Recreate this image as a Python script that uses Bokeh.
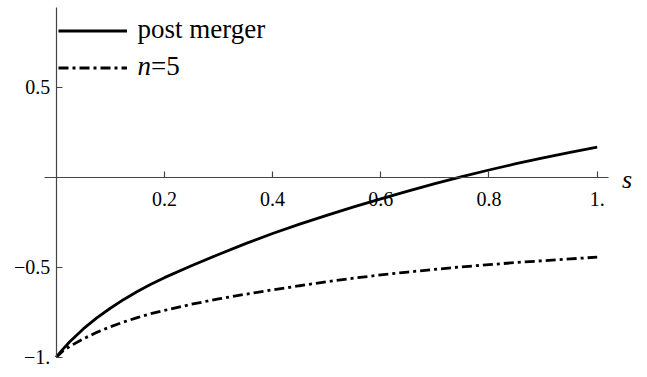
from bokeh.plotting import figure
from bokeh.models import FixedTicker, Label, Legend, LegendItem, Range1d
from bokeh.embed import file_html
from bokeh.resources import INLINE

# data
s = [0, 0.0125, 0.025, 0.05, 0.075, 0.1, 0.125, 0.15, 0.175, 0.2, 0.25, 0.3,
     0.35, 0.4, 0.45, 0.5, 0.55, 0.6, 0.65, 0.7, 0.75, 0.8, 0.85, 0.9, 0.95,
     1.0]
post_merger = [-1, -0.955, -0.914, -0.843, -0.782, -0.728, -0.679, -0.635,
               -0.595, -0.558, -0.492, -0.429, -0.369, -0.313, -0.261, -0.212,
               -0.165, -0.12, -0.077, -0.036, 0.003, 0.04, 0.075, 0.108,
               0.138, 0.167]
n5 = [-1, -0.965, -0.94, -0.898, -0.862, -0.831, -0.804, -0.78, -0.758,
      -0.74, -0.706, -0.676, -0.65, -0.626, -0.603, -0.581, -0.561, -0.543,
      -0.527, -0.512, -0.498, -0.486, -0.474, -0.464, -0.454, -0.444]

x_ticks = [0.2, 0.4, 0.6, 0.8, 1.0]
x_tick_labels = ["0.2", "0.4", "0.6", "0.8", "1."]
y_ticks = [0.5, -0.5, -1.0]
y_tick_labels = ["0.5", "\u22120.5", "\u22121."]
legend_text = ["post merger", ("n", "=5")]
axis_var = "s"

FONT = "Liberation Serif"

p = figure(width=647, height=377, output_backend="svg", toolbar_location=None,
           x_range=Range1d(-0.10296, 1.09298), y_range=Range1d(-1.11278, 0.98167),
           min_border=0, min_border_left=0, min_border_right=0,
           min_border_top=0, min_border_bottom=0)
p.outline_line_color = None
p.grid.visible = False
p.background_fill_color = "white"
p.border_fill_color = "white"

r1 = p.line(s, post_merger, line_color="black", line_width=2.8,
            line_join="round")
r2 = p.line(s, n5, line_color="black", line_width=2.8, line_dash="10 4 3 4")

for ax in (p.xaxis[0], p.yaxis[0]):
    ax.fixed_location = 0
    ax.axis_line_color = "#444444"
    ax.axis_line_width = 1.2
    ax.major_tick_line_color = "#444444"
    ax.major_tick_line_width = 1.2
    ax.major_tick_in = 6
    ax.major_tick_out = 0
    ax.minor_tick_line_color = None
    ax.major_label_text_font = FONT
    ax.major_label_text_font_size = "20px"
    ax.major_label_text_color = "black"

p.xaxis[0].ticker = FixedTicker(ticks=x_ticks)
p.xaxis[0].major_label_overrides = dict(zip(x_ticks, x_tick_labels))
p.xaxis[0].bounds = (-0.021, 1.021)
p.xaxis[0].major_label_standoff = 15

p.yaxis[0].ticker = FixedTicker(ticks=y_ticks)
p.yaxis[0].major_label_overrides = dict(zip(y_ticks, y_tick_labels))
p.yaxis[0].bounds = (-1.0, 0.943)
p.yaxis[0].major_label_standoff = 6

p.add_layout(Label(x=1.046, y=0, x_units="data", y_units="data", text=axis_var,
                   text_font=FONT, text_font_style="italic",
                   text_font_size="26px", text_baseline="middle",
                   text_align="left", y_offset=-2, text_color="black"))

# legend keys (line samples); the texts are drawn as labels so that
# the serif face and the italic n can be kept
legend = Legend(items=[LegendItem(label=" ", renderers=[r1]),
                       LegendItem(label=" ", renderers=[r2])],
                location=(58, 291), padding=0, margin=0, spacing=0,
                glyph_width=69, glyph_height=37, label_height=37,
                label_standoff=9, label_text_font_size="10px",
                border_line_color=None, background_fill_alpha=0)
p.add_layout(legend)

p.add_layout(Label(x=137, y=349, x_units="screen", y_units="screen",
                   text=legend_text[0], text_font=FONT, text_font_size="27px",
                   text_baseline="middle", text_align="left",
                   text_color="black"))
p.add_layout(Label(x=137, y=312, x_units="screen", y_units="screen",
                   text=legend_text[1][0], text_font=FONT,
                   text_font_style="italic", text_font_size="27px",
                   text_baseline="middle", text_align="left",
                   text_color="black"))
p.add_layout(Label(x=150.5, y=312, x_units="screen", y_units="screen",
                   text=legend_text[1][1], text_font=FONT,
                   text_font_size="27px", text_baseline="middle",
                   text_align="left", text_color="black"))

open("out.html", "w").write(file_html(p, INLINE))
